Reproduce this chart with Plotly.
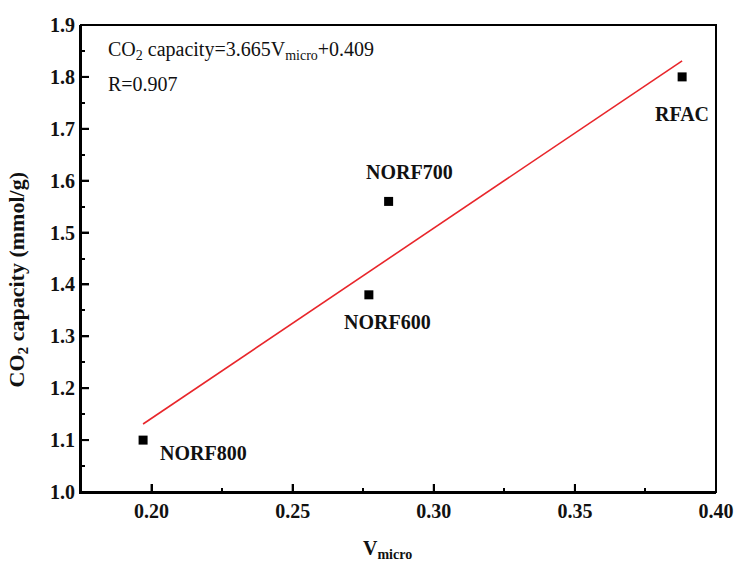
import plotly.graph_objects as go

# Micropore volume vs. CO2 uptake for the four carbons
samples = ["NORF800", "NORF600", "NORF700", "RFAC"]
v_micro = [0.197, 0.277, 0.284, 0.388]
co2_capacity = [1.10, 1.38, 1.56, 1.80]

# Linear fit reported for the data
slope = 3.665
intercept = 0.409
r_value = 0.907

x_ticks = [0.20, 0.25, 0.30, 0.35, 0.40]
y_ticks = [1.0, 1.1, 1.2, 1.3, 1.4, 1.5, 1.6, 1.7, 1.8, 1.9]

# label offsets in pixels (xshift, yshift, xanchor)
label_offsets = {
    "NORF800": (15, -13, "left"),
    "NORF600": (19, -27, "center"),
    "NORF700": (21, 29, "center"),
    "RFAC": (0, -37, "center"),
}

SERIF = "Liberation Serif"
MAJOR_TICK_PX = 8

fit_x = [min(v_micro), max(v_micro)]
fit_y = [slope * x + intercept for x in fit_x]

fig = go.Figure()
fig.add_trace(go.Scatter(
    x=fit_x, y=fit_y, mode="lines",
    line=dict(color="#e8262b", width=1.6),
    hoverinfo="skip", showlegend=False,
))
fig.add_trace(go.Scatter(
    x=v_micro, y=co2_capacity, mode="markers",
    marker=dict(symbol="square", size=9, color="black"),
    showlegend=False,
))

for name, x, y in zip(samples, v_micro, co2_capacity):
    dx, dy, anchor = label_offsets[name]
    fig.add_annotation(
        x=x, y=y, xref="x", yref="y", text=f"<b>{name}</b>",
        showarrow=False, xshift=dx, yshift=dy, xanchor=anchor, yanchor="middle",
        font=dict(family=SERIF, size=20, color="#111"),
    )

fig.add_annotation(
    x=0.039, y=0.945, xref="paper", yref="paper", xanchor="left", yanchor="middle",
    text=f"CO<sub>2</sub> capacity={slope:.3f}V<sub>micro</sub>+{intercept:.3f}",
    showarrow=False, font=dict(family=SERIF, size=20, color="#111"),
)
fig.add_annotation(
    x=0.039, y=0.874, xref="paper", yref="paper", xanchor="left", yanchor="middle",
    text=f"R={r_value:.3f}",
    showarrow=False, font=dict(family=SERIF, size=20, color="#111"),
)

# axis titles
fig.add_annotation(
    x=-0.1, y=0.454, xref="paper", yref="paper", textangle=-90,
    text="<b>CO<sub>2</sub> capacity (mmol/g)</b>", showarrow=False,
    xanchor="center", yanchor="middle",
    font=dict(family=SERIF, size=22, color="#111"),
)
fig.add_annotation(
    x=0.483, y=-0.155, xref="paper", yref="paper",
    text="<b>V<sub>micro</sub></b>", showarrow=False,
    xanchor="center", yanchor="bottom",
    font=dict(family=SERIF, size=20, color="#111"),
)

# frame around the plotting area (top and right sides carry no ticks)
fig.add_shape(
    type="rect", xref="paper", yref="paper", x0=0, y0=0, x1=1, y1=1,
    line=dict(color="black", width=2), fillcolor="rgba(0,0,0,0)", layer="above",
)

# major inward ticks on the bottom and left axes, placed at the tick values
for v in x_ticks:
    fig.add_shape(
        type="line", xref="x", yref="paper", x0=v, x1=v,
        ysizemode="pixel", yanchor=0, y0=0, y1=MAJOR_TICK_PX,
        line=dict(color="black", width=2), layer="above",
    )
for v in y_ticks:
    fig.add_shape(
        type="line", xref="paper", yref="y", y0=v, y1=v,
        xsizemode="pixel", xanchor=0, x0=0, x1=MAJOR_TICK_PX,
        line=dict(color="black", width=2), layer="above",
    )

axis_common = dict(
    showgrid=False, showline=True, linecolor="black",
    linewidth=2, ticks="inside", ticklen=MAJOR_TICK_PX, tickwidth=2,
    tickcolor="black", automargin=False,
    tickfont=dict(family=SERIF, size=20, color="#111"),
)

fig.update_xaxes(
    range=[0.175, 0.40], tickvals=x_ticks,
    ticktext=[f"<b>{v:.2f}</b>" for v in x_ticks],
    minor=dict(ticks="inside", ticklen=4, tickwidth=2, tickcolor="black", dtick=0.025, tick0=0.2),
    **axis_common,
)
fig.update_yaxes(
    range=[1.0, 1.9], tickvals=y_ticks,
    ticktext=[f"<b>{v:.1f}</b>" for v in y_ticks],
    minor=dict(ticks="inside", ticklen=4, tickwidth=2, tickcolor="black", dtick=0.05, tick0=1.0),
    **axis_common,
)

fig.update_layout(
    width=735, height=563,
    margin=dict(l=81, r=19, t=25, b=71),
    paper_bgcolor="white", plot_bgcolor="white",
)

fig.write_html("out.html")
